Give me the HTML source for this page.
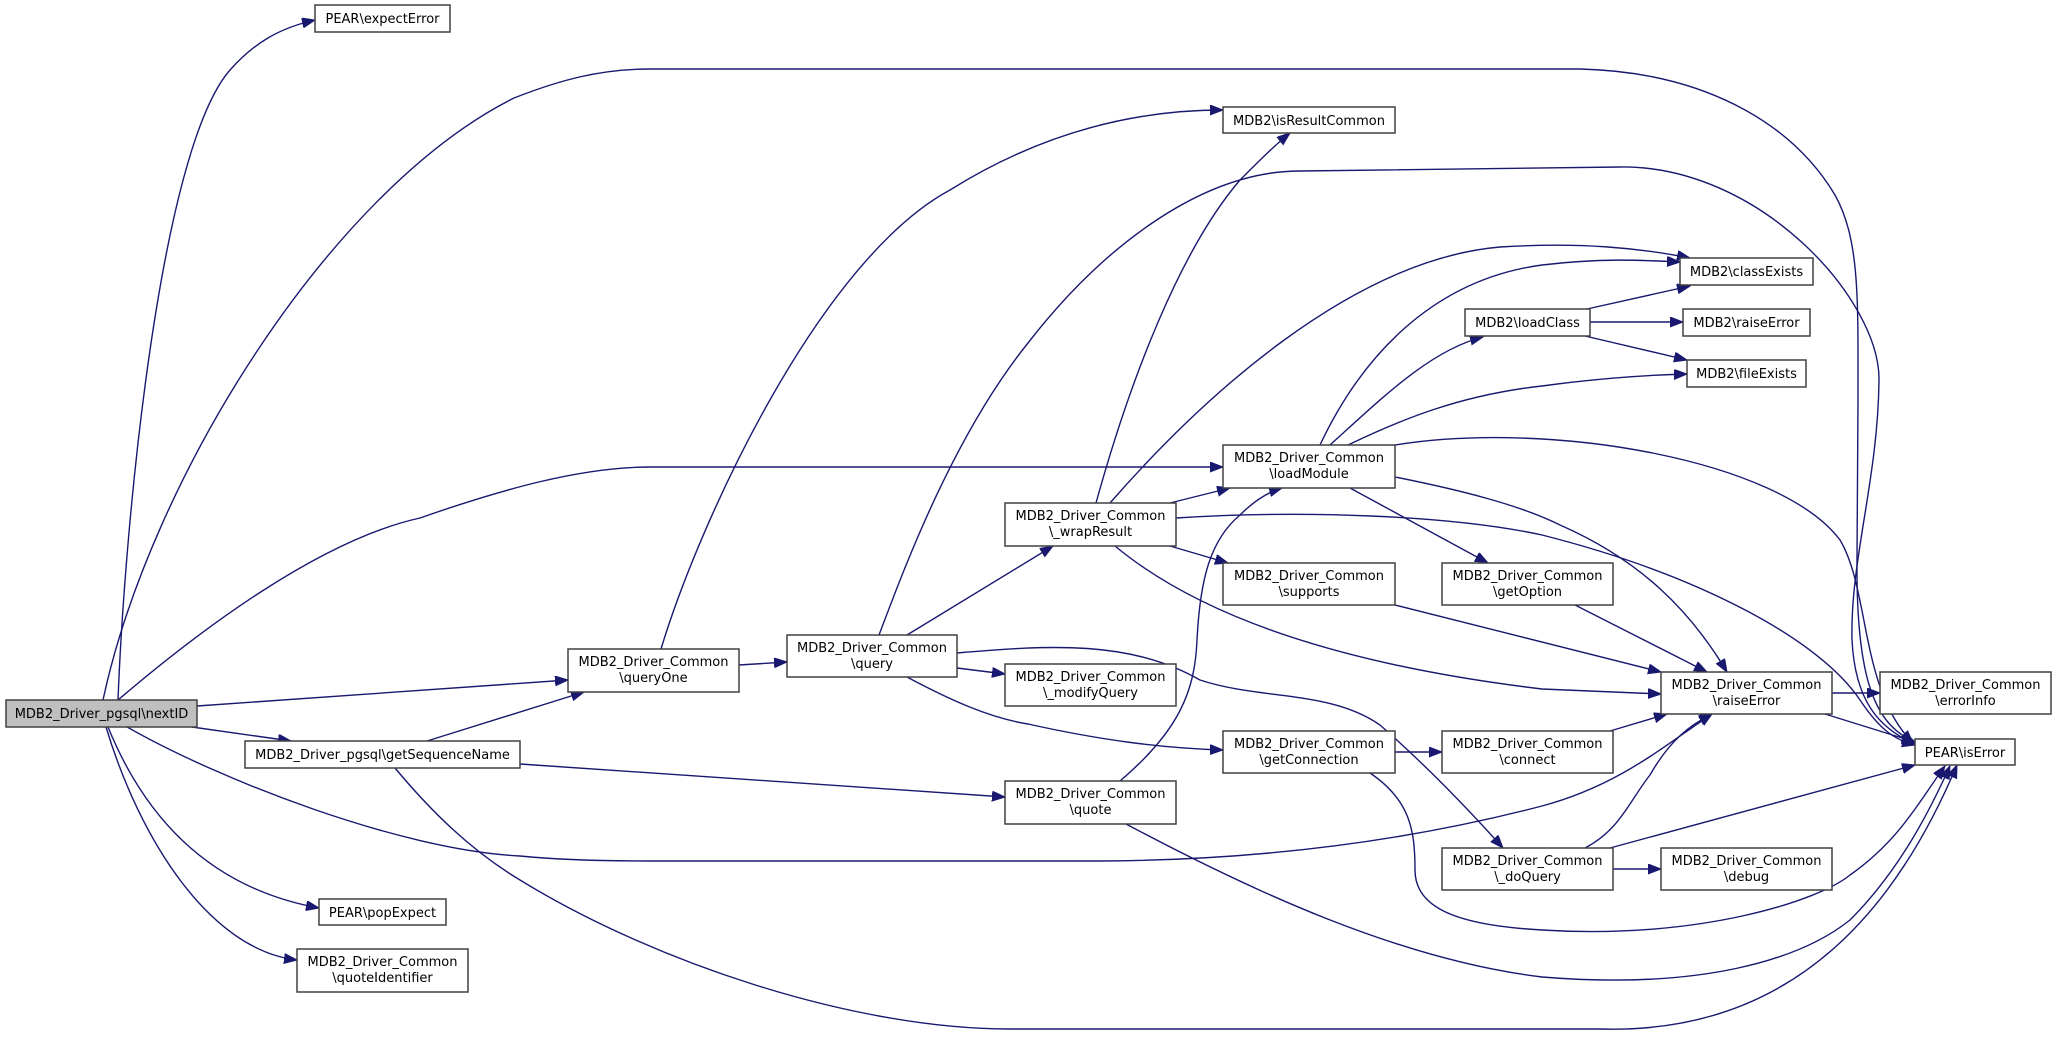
<!DOCTYPE html>
<html><head><meta charset="utf-8"><style>
html,body{margin:0;padding:0;background:#fff;}
svg{display:block;}
text{font-family:"DejaVu Sans","Liberation Sans",sans-serif;font-size:13px;fill:#000;}
.n{fill:#fff;stroke:#404040;stroke-width:1.5;}
.e{fill:none;stroke:#191970;stroke-width:1.4;}
</style></head><body>
<svg width="2056" height="1043" viewBox="0 0 2056 1043" xmlns="http://www.w3.org/2000/svg">
<defs>
<marker id="a" markerUnits="userSpaceOnUse" markerWidth="14" markerHeight="12" refX="13" refY="5" orient="auto">
<path d="M0,0 L13,5 L0,10 z" fill="#191970" stroke="#191970"/>
</marker>
</defs>
<g marker-end="url(#a)">
<!-- nextID edges -->
<path class="e" d="M118,700 C125,520 160,150 230,70 C255,42 280,28 315,20"/>
<path class="e" d="M103,700 C150,480 330,190 514,98 C560,80 600,69 650,69 L1580,69 C1700,72 1790,120 1835,195 C1860,240 1858,300 1858,400 L1857,560 C1856,680 1875,725 1915,742"/>
<path class="e" d="M118,700 C200,630 320,540 420,518 C500,490 580,467 650,467 L1223,467"/>
<path class="e" d="M197,706 L568,680"/>
<path class="e" d="M192,727 L291,741"/>
<path class="e" d="M127,727 C220,780 400,850 520,856 C560,860 600,861 650,861 L1100,861 C1300,860 1450,830 1542,806 C1620,785 1665,745 1712,714"/>
<path class="e" d="M108,727 C150,830 220,890 319,908"/>
<path class="e" d="M106,727 C140,840 210,950 297,960"/>
<!-- getSequenceName -->
<path class="e" d="M427,741 L584,692"/>
<path class="e" d="M520,764 L1005,797"/>
<path class="e" d="M395,768 C430,810 470,850 520,880 C650,960 850,1029 1010,1029 L1600,1029 C1800,1035 1900,900 1957,765"/>
<!-- queryOne -->
<path class="e" d="M739,665 L787,662"/>
<path class="e" d="M661,649 C700,520 820,260 950,190 C1030,140 1120,110 1223,110"/>
<!-- query -->
<path class="e" d="M879,635 C900,580 950,440 1028,343 C1100,250 1200,171 1300,171 L1620,167 C1760,165 1880,300 1879,380 C1878,480 1850,560 1852,640 C1855,700 1878,728 1915,744"/>
<path class="e" d="M907,635 L1053,546"/>
<path class="e" d="M957,668 L1005,674"/>
<path class="e" d="M907,677 C950,700 990,718 1028,724 C1100,740 1160,748 1223,750"/>
<path class="e" d="M957,653 C1050,645 1130,640 1200,680 C1260,700 1330,690 1380,725 C1420,760 1460,800 1503,848"/>
<!-- _wrapResult -->
<path class="e" d="M1096,503 C1130,380 1180,250 1240,180 C1260,160 1275,145 1290,133"/>
<path class="e" d="M1110,503 C1200,400 1350,260 1500,247 C1580,242 1640,248 1690,258"/>
<path class="e" d="M1170,503 L1230,488"/>
<path class="e" d="M1170,546 L1228,563"/>
<path class="e" d="M1176,518 C1300,510 1450,515 1542,535 C1700,575 1820,640 1860,700 C1880,730 1895,740 1915,745"/>
<path class="e" d="M1115,546 C1180,600 1300,660 1542,689 L1661,694"/>
<!-- loadModule -->
<path class="e" d="M1320,445 C1360,360 1430,280 1542,265 C1600,258 1640,260 1680,262"/>
<path class="e" d="M1330,445 C1380,400 1430,350 1483,337"/>
<path class="e" d="M1348,445 C1400,420 1460,395 1542,386 C1600,378 1650,375 1687,374"/>
<path class="e" d="M1395,445 C1550,420 1780,460 1840,540 C1870,590 1860,690 1913,743"/>
<path class="e" d="M1395,477 C1460,490 1520,505 1560,525 C1640,560 1690,610 1727,672"/>
<path class="e" d="M1350,488 L1488,563"/>
<!-- loadClass -->
<path class="e" d="M1587,309 L1690,286"/>
<path class="e" d="M1590,322 L1683,322"/>
<path class="e" d="M1585,336 L1687,360"/>
<!-- others -->
<path class="e" d="M1395,605 L1661,672"/>
<path class="e" d="M1575,605 L1707,672"/>
<path class="e" d="M1395,752 L1442,752"/>
<path class="e" d="M1370,773 C1410,800 1415,830 1415,870 C1415,905 1450,925 1542,930 C1700,940 1820,900 1850,875 C1900,840 1920,800 1945,766"/>
<path class="e" d="M1610,731 L1667,714"/>
<path class="e" d="M1120,781 C1180,730 1195,690 1197,640 C1200,580 1210,540 1240,515 C1255,500 1268,492 1282,488"/>
<path class="e" d="M1126,824 C1250,890 1400,960 1542,977 C1700,990 1800,960 1850,920 C1900,870 1930,810 1950,766"/>
<path class="e" d="M1585,848 C1620,830 1630,800 1650,775 C1670,740 1690,725 1712,714"/>
<path class="e" d="M1610,848 L1915,765"/>
<path class="e" d="M1613,869 L1661,869"/>
<path class="e" d="M1832,693 L1880,693"/>
<path class="e" d="M1825,714 L1915,742"/>
</g>
<!-- nodes -->
<rect x="6" y="700" width="191" height="27" fill="#bfbfbf" stroke="#404040" stroke-width="1.5"/>
<text x="101.5" y="718" text-anchor="middle">MDB2_Driver_pgsql\nextID</text>
<rect class="n" x="315" y="5" width="135" height="27"/><text x="382.5" y="23" text-anchor="middle">PEAR\expectError</text>
<rect class="n" x="245" y="741" width="275" height="27"/><text x="382.5" y="759" text-anchor="middle">MDB2_Driver_pgsql\getSequenceName</text>
<rect class="n" x="319" y="899" width="127" height="26"/><text x="382.5" y="917" text-anchor="middle">PEAR\popExpect</text>
<rect class="n" x="297" y="949" width="171" height="43"/><text x="382.5" y="966" text-anchor="middle">MDB2_Driver_Common</text><text x="382.5" y="982" text-anchor="middle">\quoteIdentifier</text>
<rect class="n" x="568" y="649" width="171" height="43"/><text x="653.5" y="666" text-anchor="middle">MDB2_Driver_Common</text><text x="653.5" y="682" text-anchor="middle">\queryOne</text>
<rect class="n" x="787" y="635" width="170" height="42"/><text x="872" y="652" text-anchor="middle">MDB2_Driver_Common</text><text x="872" y="668" text-anchor="middle">\query</text>
<rect class="n" x="1005" y="503" width="171" height="43"/><text x="1090.5" y="520" text-anchor="middle">MDB2_Driver_Common</text><text x="1090.5" y="536" text-anchor="middle">\_wrapResult</text>
<rect class="n" x="1005" y="664" width="171" height="42"/><text x="1090.5" y="681" text-anchor="middle">MDB2_Driver_Common</text><text x="1090.5" y="697" text-anchor="middle">\_modifyQuery</text>
<rect class="n" x="1005" y="781" width="171" height="43"/><text x="1090.5" y="798" text-anchor="middle">MDB2_Driver_Common</text><text x="1090.5" y="814" text-anchor="middle">\quote</text>
<rect class="n" x="1223" y="107" width="172" height="26"/><text x="1309" y="125" text-anchor="middle">MDB2\isResultCommon</text>
<rect class="n" x="1223" y="445" width="172" height="43"/><text x="1309" y="462" text-anchor="middle">MDB2_Driver_Common</text><text x="1309" y="478" text-anchor="middle">\loadModule</text>
<rect class="n" x="1223" y="563" width="172" height="42"/><text x="1309" y="580" text-anchor="middle">MDB2_Driver_Common</text><text x="1309" y="596" text-anchor="middle">\supports</text>
<rect class="n" x="1223" y="731" width="172" height="42"/><text x="1309" y="748" text-anchor="middle">MDB2_Driver_Common</text><text x="1309" y="764" text-anchor="middle">\getConnection</text>
<rect class="n" x="1465" y="309" width="125" height="27"/><text x="1527.5" y="327" text-anchor="middle">MDB2\loadClass</text>
<rect class="n" x="1442" y="563" width="171" height="42"/><text x="1527.5" y="580" text-anchor="middle">MDB2_Driver_Common</text><text x="1527.5" y="596" text-anchor="middle">\getOption</text>
<rect class="n" x="1442" y="731" width="171" height="42"/><text x="1527.5" y="748" text-anchor="middle">MDB2_Driver_Common</text><text x="1527.5" y="764" text-anchor="middle">\connect</text>
<rect class="n" x="1442" y="848" width="171" height="42"/><text x="1527.5" y="865" text-anchor="middle">MDB2_Driver_Common</text><text x="1527.5" y="881" text-anchor="middle">\_doQuery</text>
<rect class="n" x="1680" y="258" width="133" height="27"/><text x="1746.5" y="276" text-anchor="middle">MDB2\classExists</text>
<rect class="n" x="1683" y="309" width="127" height="27"/><text x="1746.5" y="327" text-anchor="middle">MDB2\raiseError</text>
<rect class="n" x="1687" y="360" width="119" height="27"/><text x="1746.5" y="378" text-anchor="middle">MDB2\fileExists</text>
<rect class="n" x="1661" y="672" width="171" height="42"/><text x="1746.5" y="689" text-anchor="middle">MDB2_Driver_Common</text><text x="1746.5" y="705" text-anchor="middle">\raiseError</text>
<rect class="n" x="1661" y="848" width="171" height="42"/><text x="1746.5" y="865" text-anchor="middle">MDB2_Driver_Common</text><text x="1746.5" y="881" text-anchor="middle">\debug</text>
<rect class="n" x="1880" y="672" width="171" height="42"/><text x="1965.5" y="689" text-anchor="middle">MDB2_Driver_Common</text><text x="1965.5" y="705" text-anchor="middle">\errorInfo</text>
<rect class="n" x="1915" y="739" width="100" height="26"/><text x="1965" y="757" text-anchor="middle">PEAR\isError</text>
</svg>
</body></html>
